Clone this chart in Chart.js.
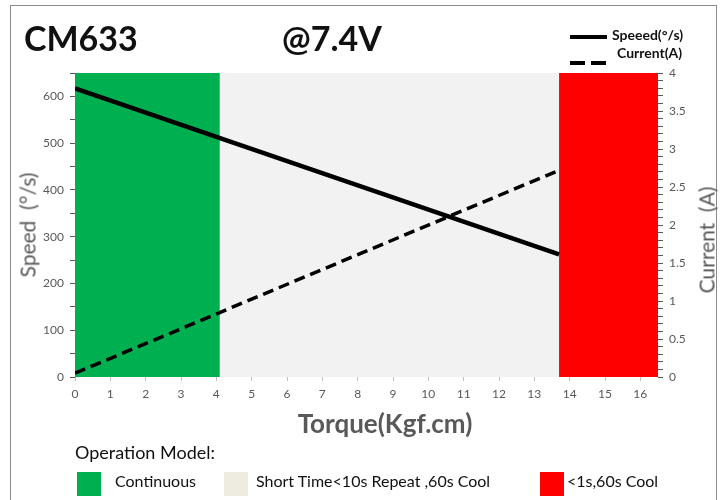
<!DOCTYPE html>
<html>
<head>
<meta charset="utf-8">
<script src="https://cdn.jsdelivr.net/npm/chart.js@4.4.0/dist/chart.umd.min.js"></script>
<style>
  body { margin: 0; background: #fff; }
  #wrap { position: relative; width: 727px; height: 500px; overflow: hidden; font-family: Lato, "Open Sans", sans-serif; }
  #frame { position: absolute; left: 10px; top: 5px; width: 705px; height: 520px; border: 1.5px solid #8c8c8c; }
  canvas { position: absolute; left: 0; top: 0; }
  .t { position: absolute; white-space: nowrap; }
  .sq { position: absolute; width: 24px; height: 24px; }
</style>
</head>
<body>
<div id="wrap">
  <div id="frame"></div>
  <canvas id="chart" width="727" height="500"></canvas>
  <div class="t" style="left:24px;top:17px;font-size:34px;font-weight:bold;color:#111">CM633</div>
  <div class="t" style="left:282px;top:17px;font-size:34px;font-weight:bold;color:#111">@7.4V</div>

  <div style="position:absolute;left:570px;top:35px;width:37px;height:4px;background:#000"></div>
  <div style="position:absolute;left:570px;top:61px;width:15px;height:4px;background:#000"></div>
  <div style="position:absolute;left:591px;top:61px;width:15px;height:4px;background:#000"></div>
  <div class="t" style="left:612px;top:26px;font-size:14px;font-weight:bold;color:#111">Speeed(°/s)</div>
  <div class="t" style="left:617px;top:44px;font-size:14px;font-weight:bold;color:#111">Current(A)</div>

  <div class="t" style="left:27px;top:225px;font-size:21px;color:#595959;transform:translate(-50%,-50%) rotate(-90deg)">Speed &nbsp;(°/s)</div>
  <div class="t" style="left:706px;top:240px;font-size:21px;color:#595959;transform:translate(-50%,-50%) rotate(-90deg)">Current &nbsp;(A)</div>
  <div class="t" style="left:385px;top:423px;font-size:26px;font-weight:bold;color:#595959;transform:translate(-50%,-50%)">Torque(Kgf.cm)</div>

  <div class="t" style="left:75px;top:441px;font-size:18px;color:#111">Operation Model:</div>
  <div class="sq" style="left:77px;top:472px;background:#00b050"></div>
  <div class="t" style="left:115px;top:471px;font-size:16px;color:#111">Continuous</div>
  <div class="sq" style="left:224px;top:472px;background:#eeece1"></div>
  <div class="t" style="left:256px;top:471px;font-size:16px;color:#111">Short Time&lt;10s Repeat ,60s Cool</div>
  <div class="sq" style="left:540px;top:472px;background:#ff0000"></div>
  <div class="t" style="left:567px;top:471px;font-size:16px;color:#111">&lt;1s,60s Cool</div>
</div>
<script>
// 데이터
const torque = [0, 13.7];
const speed = [617, 262];
const current = [0.05, 2.72];
const zoneStart = [0, 4.1, 13.7];
const zoneEnd = [4.1, 13.7, 16.5];
const zoneColors = ['#00b050', '#f2f2f2', '#ff0000'];

// 운전 구간 배경
const zonePlugin = {
  id: 'zones',
  beforeDatasetsDraw(chart) {
    const { ctx, chartArea, scales } = chart;
    ctx.save();
    zoneStart.forEach((s, i) => {
      const x0 = scales.x.getPixelForValue(s);
      const x1 = scales.x.getPixelForValue(zoneEnd[i]);
      ctx.fillStyle = zoneColors[i];
      ctx.fillRect(x0, chartArea.top, x1 - x0, chartArea.bottom - chartArea.top);
    });
    ctx.restore();
  }
};

const tickFont = { family: 'Lato, "Open Sans", sans-serif', size: 12 };

new Chart(document.getElementById('chart'), {
  type: 'line',
  data: {
    datasets: [
      { data: torque.map((t, i) => ({ x: t, y: speed[i] })), yAxisID: 'y', borderColor: '#000', borderWidth: 4.5, pointRadius: 0 },
      { data: torque.map((t, i) => ({ x: t, y: current[i] })), yAxisID: 'y1', borderColor: '#000', borderWidth: 3.5, borderDash: [11, 6], pointRadius: 0 }
    ]
  },
  options: {
    animation: false, responsive: false,
    layout: { padding: { top: 73, left: 0, right: 0, bottom: 0 } },
    plugins: { legend: { display: false }, tooltip: { enabled: false } },
    scales: {
      x: {
        type: 'linear', min: 0, max: 16.5,
        afterFit: s => { s.height = 123; },
        grid: { drawOnChartArea: false, tickLength: 4, color: '#bfbfbf' },
        border: { display: false },
        ticks: { stepSize: 1, includeBounds: false, color: '#595959', font: tickFont, padding: 6 }
      },
      y: {
        min: 0, max: 650, position: 'left',
        afterFit: s => { s.width = 75; },
        grid: { drawOnChartArea: false, tickLength: 5, color: '#595959' },
        border: { display: false },
        ticks: { stepSize: 50, color: '#595959', font: tickFont, padding: 6,
          callback: v => (v % 100 === 0 ? v : '') }
      },
      y1: {
        min: 0, max: 4, position: 'right',
        afterFit: s => { s.width = 69; },
        grid: { drawOnChartArea: false, tickLength: 5, color: '#595959' },
        border: { display: false },
        ticks: { stepSize: 0.1, autoSkip: false, maxTicksLimit: 100, color: '#595959', font: tickFont, padding: 6,
          callback: v => (Math.round(v * 10) % 5 === 0 ? Math.round(v * 10) / 10 : '') }
      }
    }
  },
  plugins: [zonePlugin]
});
</script>
</body>
</html>
